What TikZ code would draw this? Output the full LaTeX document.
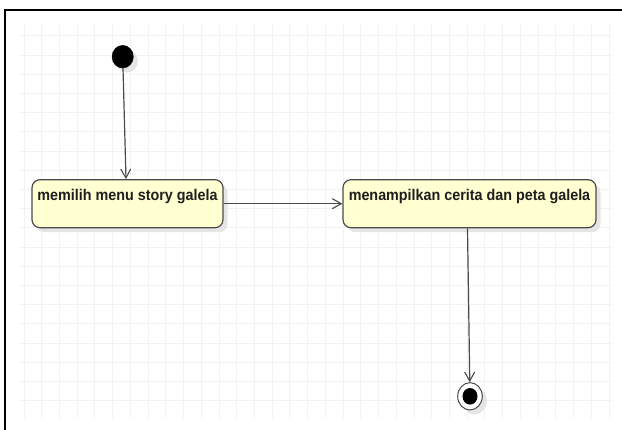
\documentclass[tikz,border=0pt]{standalone}
\usepackage{fontspec}
\setmainfont{Liberation Sans}
\usetikzlibrary{arrows.meta,shapes.geometric,shadows,calc}
\definecolor{boxfill}{HTML}{FFFFD2}
\definecolor{boxdraw}{HTML}{4A4A4A}
\definecolor{gridc}{HTML}{F2F2F2}
\definecolor{arrc}{HTML}{4A4A4A}
\definecolor{txtc}{HTML}{1E1E1E}
\newcommand{\lbltext}[1]{\scalebox{0.925}[1]{\fontsize{15.5pt}{18pt}\selectfont\bfseries #1}}
\tikzset{
  shad/.style={drop shadow={shadow xshift=4.5pt, shadow yshift=-4.5pt, fill=black!10, opacity=1}},
  actbox/.style={rectangle, rounded corners=8pt, draw=boxdraw, line width=1.2pt, fill=boxfill,
     shad, inner xsep=0pt, inner ysep=0pt, text height=20.8pt, text depth=27.2pt,
     text=txtc, anchor=center},
  initnode/.style={ellipse, fill=black, draw=black, minimum width=21.3pt, minimum height=22.7pt, inner sep=0pt, shad},
  finalnode/.style={ellipse, fill=white, draw=boxdraw, line width=1pt, minimum width=24.6pt, minimum height=27.3pt, inner sep=0pt, shad,
     path picture={\fill[black] (path picture bounding box.center) ellipse (7.5pt and 8.3pt);}},
  arr/.style={draw=arrc, line width=1.2pt, -{Straight Barb[length=9pt, width=10pt, line width=1.1pt]}},
}
\begin{document}
\begin{tikzpicture}[x=1pt, y=-1pt]
\useasboundingbox (0,0) rectangle (622,430);
\fill[white] (0,0) rectangle (622,430);
% grid
\foreach \k in {0,...,33} {
  \draw[gridc, line width=1pt] ({24+17.73*\k},25) -- ({24+17.73*\k},418);
}
\foreach \k in {0,...,19} {
  \draw[gridc, line width=1pt] (20,{36+19.2*\k}) -- (612,{36+19.2*\k});
}
% frame
\draw[black, line width=2pt] (622,10) -- (5,10) -- (5,430);
% nodes
\node[initnode] (init) at (122.7,56.7) {};
\node[actbox, minimum width=191pt] (b1) at (127.5,203.7) {\lbltext{memilih menu story galela}};
\node[actbox, minimum width=253pt] (b2) at (469.5,203.7) {\lbltext{menampilkan cerita dan peta galela}};
\node[finalnode] (fin) at (470,396.3) {};
% connectors
\draw[arr] (init) -- ([xshift=-1.5pt]b1.north);
\draw[arr] (b1.east) -- (b2.west);
\draw[arr] ([xshift=-2pt]b2.south) -- (fin);
\end{tikzpicture}
\end{document}
